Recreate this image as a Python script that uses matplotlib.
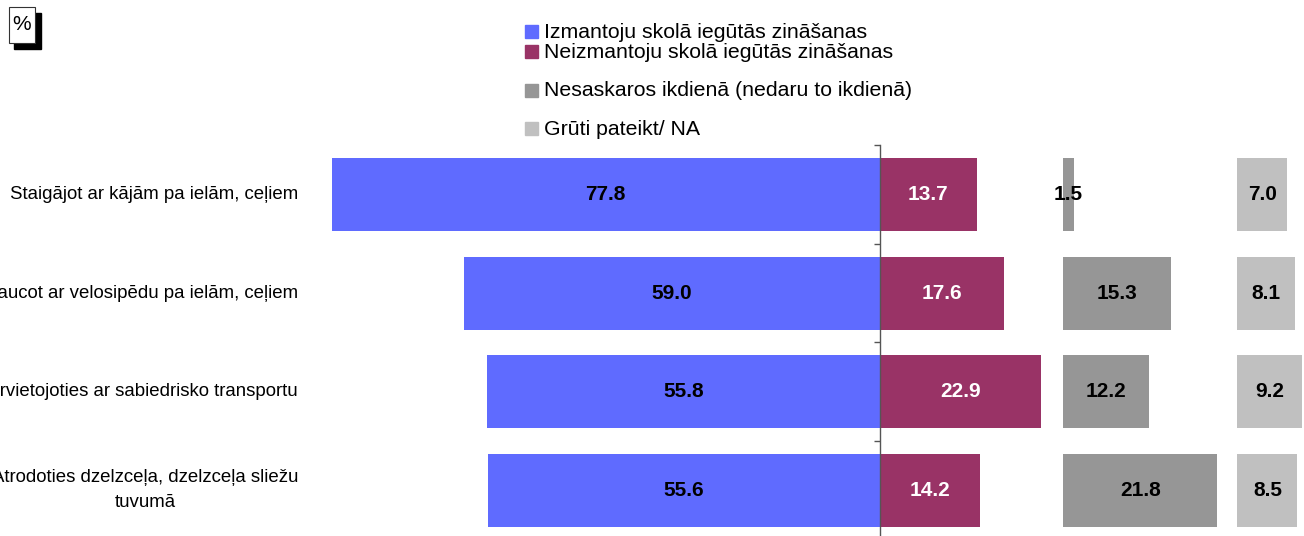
import matplotlib
matplotlib.use("Agg")
import matplotlib.pyplot as plt
from matplotlib.patches import Rectangle

plt.rcParams['font.family'] = ['Liberation Sans', 'DejaVu Sans']

categories = [
    "Staigājot ar kājām pa ielām, ceļiem",
    "Braucot ar velosipēdu pa ielām, ceļiem",
    "Pārvietojoties ar sabiedrisko transportu",
    "Atrodoties dzelzceļa, dzelzceļa sliežu\ntuvumā",
]
use_knowledge = [77.8, 59.0, 55.8, 55.6]
not_use = [13.7, 17.6, 22.9, 14.2]
not_encounter = [1.5, 15.3, 12.2, 21.8]
hard_to_say = [7.0, 8.1, 9.2, 8.5]

series_names = [
    "Izmantoju skolā iegūtās zināšanas",
    "Neizmantoju skolā iegūtās zināšanas",
    "Nesaskaros ikdienā (nedaru to ikdienā)",
    "Grūti pateikt/ NA",
]
colors = ["#5F6BFF", "#993366", "#969696", "#C0C0C0"]
text_colors = ["black", "white", "black", "black"]

W, H = 1304, 536
fig = plt.figure(figsize=(W / 100, H / 100), dpi=100)

px_per_unit = 7.05
x0_px = 880
xmin = (0 - x0_px) / px_per_unit
xmax = (W - x0_px) / px_per_unit
ax_top_px = 145.5
row_px = 98.5
ax_bot_px = ax_top_px + row_px * len(categories)
ax = fig.add_axes([0, 1 - ax_bot_px / H, 1, (ax_bot_px - ax_top_px) / H])
ax.set_xlim(xmin, xmax)
ax.set_ylim(len(categories) - 0.5, -0.5)

gray_offset = 26.0
light_offset = 50.7
bh = 0.74
y = list(range(len(categories)))

b1 = ax.barh(y, [-v for v in use_knowledge], height=bh, color=colors[0], zorder=2)
b2 = ax.barh(y, not_use, height=bh, color=colors[1], zorder=2)
b3 = ax.barh(y, not_encounter, left=gray_offset, height=bh, color=colors[2], zorder=2)
b4 = ax.barh(y, hard_to_say, left=light_offset, height=bh, color=colors[3], zorder=2)

for bars, vals, tc in zip([b1, b2, b3, b4],
                          [use_knowledge, not_use, not_encounter, hard_to_say],
                          text_colors):
    for rect, v in zip(bars, vals):
        cx = rect.get_x() + rect.get_width() / 2
        cy = rect.get_y() + rect.get_height() / 2
        ax.text(cx, cy, f"{v:.1f}", ha="center", va="center", color=tc,
                fontsize=15, fontweight="bold", zorder=3)

for s in ["top", "right", "bottom"]:
    ax.spines[s].set_visible(False)
ax.spines["left"].set_position(("data", 0))
ax.spines["left"].set_color("#555555")
ax.spines["left"].set_linewidth(1.0)
ax.spines["left"].set_zorder(4)
ax.set_xticks([])

ax.set_yticks(y)
ax.set_yticklabels(categories, fontsize=13.4)
ax.tick_params(axis="y", which="major", length=0,
               pad=(x0_px - 298) * 0.72)
for lbl in ax.get_yticklabels():
    lbl.set_multialignment("center")
    lbl.set_linespacing(1.65)
    lbl.set_verticalalignment("center")
ax.set_yticks([i - 0.5 for i in range(len(categories) + 1)], minor=True)
ax.tick_params(axis="y", which="minor", length=4, width=1, color="#555555")

# legend (manual, irregular row spacing)
leg_rows_px = [32, 51, 90, 128]
for name, col, ypx in zip(series_names, colors, leg_rows_px):
    fig.patches.append(Rectangle((525 / W, 1 - (ypx + 6.5) / H), 13 / W, 13 / H,
                                 transform=fig.transFigure, color=col))
    fig.text(544 / W, 1 - (ypx + 1) / H, name, fontsize=15.3, va="center", ha="left")

# % box with shadow
fig.patches.append(Rectangle((14 / W, 1 - 49 / H), 27 / W, 36 / H,
                             transform=fig.transFigure, color="black", zorder=1))
fig.patches.append(Rectangle((8.5 / W, 1 - 43 / H), 26.5 / W, 36 / H,
                             transform=fig.transFigure, facecolor="white",
                             edgecolor="#333333", linewidth=0.8, zorder=2))
fig.text(21.5 / W, 1 - 25 / H, "%", fontsize=15, ha="center", va="center", zorder=3)

fig.savefig("out.png", dpi=100)
